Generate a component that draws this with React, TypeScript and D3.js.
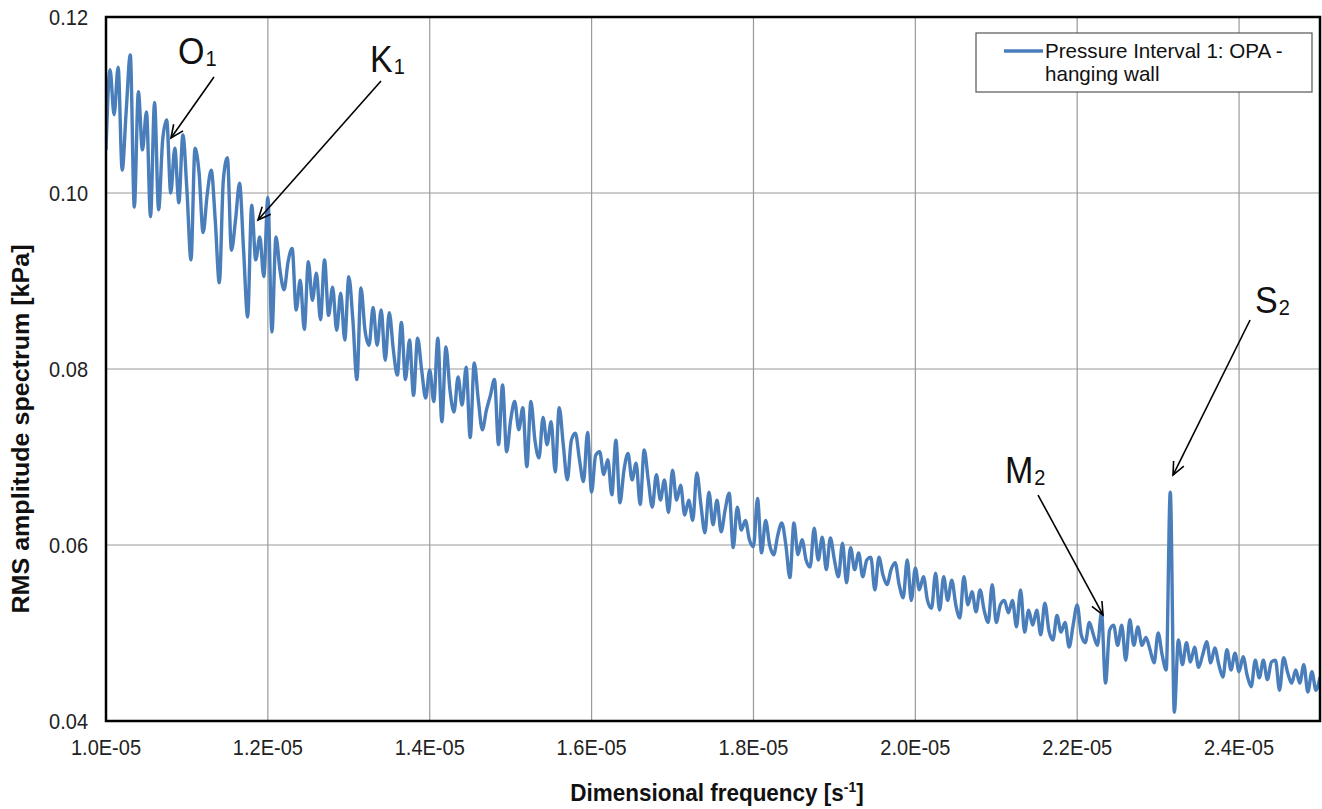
import React from 'react';
import * as d3 from 'd3';

// Spectrum sampled on a uniform frequency grid
const freqStart = 1.0e-5;
const freqStep = 5e-8;
const amplitude = [
  0.1049, 0.1140, 0.1089, 0.1143, 0.1026, 0.1094, 0.1157, 0.0984, 0.1115, 0.1049,
  0.1092, 0.0973, 0.1103, 0.0981, 0.1060, 0.1083, 0.1000, 0.1051, 0.0989, 0.1066,
  0.1003, 0.0924, 0.1051, 0.1023, 0.0955, 0.0998, 0.1026, 0.0969, 0.0898, 0.1015,
  0.1040, 0.0935, 0.0969, 0.1011, 0.0935, 0.0859, 0.0986, 0.0924, 0.0950, 0.0905,
  0.0995, 0.0842, 0.0950, 0.0912, 0.0890, 0.0922, 0.0937, 0.0867, 0.0901, 0.0845,
  0.0922, 0.0878, 0.0909, 0.0856, 0.0924, 0.0861, 0.0893, 0.0844, 0.0886, 0.0833,
  0.0905, 0.0856, 0.0788, 0.0892, 0.0844, 0.0827, 0.0870, 0.0827, 0.0867, 0.0810,
  0.0864, 0.0822, 0.0793, 0.0853, 0.0788, 0.0833, 0.0770, 0.0835, 0.0799, 0.0767,
  0.0799, 0.0763, 0.0835, 0.0740, 0.0825, 0.0776, 0.0751, 0.0791, 0.0759, 0.0802,
  0.0722, 0.0807, 0.0765, 0.0731, 0.0753, 0.0770, 0.0788, 0.0714, 0.0782, 0.0706,
  0.0742, 0.0763, 0.0731, 0.0756, 0.0689, 0.0763, 0.0719, 0.0699, 0.0745, 0.0714,
  0.0740, 0.0683, 0.0756, 0.0714, 0.0674, 0.0719, 0.0727, 0.0697, 0.0672, 0.0728,
  0.0660, 0.0702, 0.0706, 0.0680, 0.0697, 0.0657, 0.0719, 0.0648, 0.0685, 0.0704,
  0.0674, 0.0693, 0.0646, 0.0708, 0.0674, 0.0643, 0.0680, 0.0651, 0.0674, 0.0637,
  0.0685, 0.0651, 0.0668, 0.0634, 0.0651, 0.0628, 0.0682, 0.0646, 0.0614, 0.0660,
  0.0623, 0.0651, 0.0615, 0.0640, 0.0659, 0.0597, 0.0643, 0.0617, 0.0628, 0.0606,
  0.0598, 0.0653, 0.0591, 0.0628, 0.0600, 0.0589, 0.0611, 0.0625, 0.0600, 0.0563,
  0.0625, 0.0589, 0.0606, 0.0583, 0.0575, 0.0619, 0.0583, 0.0609, 0.0572, 0.0608,
  0.0583, 0.0564, 0.0602, 0.0557, 0.0597, 0.0572, 0.0591, 0.0564, 0.0583, 0.0586,
  0.0549, 0.0586, 0.0566, 0.0555, 0.0572, 0.0580, 0.0555, 0.0540, 0.0583, 0.0537,
  0.0574, 0.0549, 0.0564, 0.0537, 0.0528, 0.0568, 0.0526, 0.0564, 0.0537, 0.0560,
  0.0532, 0.0517, 0.0564, 0.0532, 0.0547, 0.0524, 0.0549, 0.0526, 0.0512, 0.0555,
  0.0512, 0.0532, 0.0537, 0.0523, 0.0537, 0.0507, 0.0549, 0.0501, 0.0526, 0.0509,
  0.0526, 0.0498, 0.0534, 0.0503, 0.0492, 0.0520, 0.0501, 0.0512, 0.0484, 0.0509,
  0.0532, 0.0498, 0.0489, 0.0512, 0.0498, 0.0486, 0.0523, 0.0443, 0.0503, 0.0509,
  0.0486, 0.0509, 0.0469, 0.0515, 0.0486, 0.0507, 0.0486, 0.0495, 0.0481, 0.0466,
  0.0500, 0.0475, 0.0458, 0.0660, 0.0410, 0.0492, 0.0464, 0.0489, 0.0467, 0.0484,
  0.0461, 0.0475, 0.0490, 0.0466, 0.0483, 0.0464, 0.0450, 0.0481, 0.0458, 0.0477,
  0.0456, 0.0473, 0.0452, 0.0439, 0.0469, 0.0449, 0.0469, 0.0447, 0.0467, 0.0469,
  0.0435, 0.0472, 0.0455, 0.0443, 0.0458, 0.0443, 0.0464, 0.0433, 0.0456, 0.0435,
  0.0450,
];

const xTicks = [1.0e-5, 1.2e-5, 1.4e-5, 1.6e-5, 1.8e-5, 2.0e-5, 2.2e-5, 2.4e-5];
const yTicks = [0.04, 0.06, 0.08, 0.10, 0.12];

const seriesName = ['Pressure Interval 1: OPA -', 'hanging wall'];

// Tidal constituent annotations (label and arrow in data coordinates)
const constituents = ['O', 'K', 'M', 'S'];
const constituentSubs = ['1', '1', '2', '2'];
const labelFreq = [1.089e-5, 1.3262e-5, 2.1108e-5, 2.4198e-5];
const labelAmp = [0.11466, 0.11375, 0.06705, 0.08636];
const arrowFromFreq = [1.1334e-5, 1.3398e-5, 2.1516e-5, 2.4136e-5];
const arrowFromAmp = [0.11318, 0.11273, 0.06568, 0.08557];
const arrowToFreq = [1.0803e-5, 1.1878e-5, 2.2319e-5, 2.3184e-5];
const arrowToAmp = [0.10625, 0.09693, 0.05205, 0.06795];

const FONT = '"Liberation Sans", Arial, Helvetica, sans-serif';
const SY = 1.1; // vertical stretch of the lettering

function T(props: { x: number; y: number; sy?: number; children: React.ReactNode; [k: string]: any }) {
  const { x, y, sy, children, ...rest } = props;
  return (
    <g transform={`translate(${x},${y}) scale(1,${sy ?? SY})`}>
      <text x={0} y={0} {...rest}>{children}</text>
    </g>
  );
}

export default function App() {
  const W = 1322;
  const H = 809;
  const left = 106, right = 1320, top = 17, bottom = 721;
  const x = d3.scaleLinear().domain([1.0e-5, 2.5e-5]).range([left, right]);
  const y = d3.scaleLinear().domain([0.04, 0.12]).range([bottom, top]);

  const data = amplitude.map((a, i) => ({ f: freqStart + i * freqStep, a }));
  const line = d3
    .line<{ f: number; a: number }>()
    .x(d => x(d.f))
    .y(d => y(d.a))
    .curve(d3.curveMonotoneX);

  const arrows = constituents.map((c, i) => {
    const x1 = x(arrowFromFreq[i]), y1 = y(arrowFromAmp[i]);
    const x2 = x(arrowToFreq[i]), y2 = y(arrowToAmp[i]);
    const ang = Math.atan2(y1 - y2, x1 - x2);
    const len = 14, spread = 0.42;
    const h1 = [x2 + len * Math.cos(ang + spread), y2 + len * Math.sin(ang + spread)];
    const h2 = [x2 + len * Math.cos(ang - spread), y2 + len * Math.sin(ang - spread)];
    return { x1, y1, x2, y2, h1, h2 };
  });

  return (
    <div style={{ position: 'absolute', left: 0, top: 0, width: W, height: H, background: '#fff' }}>
      <svg width={W} height={H} style={{ display: 'block' }} fontFamily={FONT}>
        <defs>
          <clipPath id="plotclip">
            <rect x={left} y={top} width={right - left} height={bottom - top} />
          </clipPath>
        </defs>
        <rect x={0} y={0} width={W} height={H} fill="#fff" />
        {/* grid */}
        {xTicks.slice(1).map((t, i) => (
          <line key={'gx' + i} x1={x(t)} x2={x(t)} y1={top} y2={bottom} stroke="#9a9a9a" strokeWidth={1.2} />
        ))}
        {yTicks.slice(1, -1).map((t, i) => (
          <line key={'gy' + i} x1={left} x2={right} y1={y(t)} y2={y(t)} stroke="#9a9a9a" strokeWidth={1.2} />
        ))}
        {/* series */}
        <path d={line(data) || ''} fill="none" stroke="#4a7ebb" strokeWidth={3.4} strokeLinejoin="round" clipPath="url(#plotclip)" />
        {/* frame */}
        <rect x={left} y={top} width={right - left} height={bottom - top} fill="none" stroke="#000" strokeWidth={2.5} />
        {/* y tick labels */}
        {yTicks.map((t, i) => (
          <T key={'yt' + i} x={88} y={y(t) + 8} textAnchor="end" fontSize={20} fill="#222">{t.toFixed(2)}</T>
        ))}
        {/* x tick labels */}
        {xTicks.map((t, i) => (
          <T key={'xt' + i} x={x(t)} y={755} textAnchor="middle" fontSize={20} fill="#222">{(t * 1e5).toFixed(1) + 'E-05'}</T>
        ))}
        {/* axis titles */}
        <T x={717} y={801} sy={1.04} textAnchor="middle" fontSize={22.5} fontWeight="bold" fill="#111">
          Dimensional frequency [s<tspan fontSize={14} dy={-9}>-1</tspan><tspan dy={9}>]</tspan>
        </T>
        <text transform={`translate(29,${(top + bottom) / 2 + 60}) rotate(-90) scale(1.14,1.1)`} textAnchor="middle" fontSize={22} fontWeight="bold" fill="#111">
          RMS amplitude spectrum [kPa]
        </text>
        {/* legend */}
        <rect x={976} y={33} width={336} height={59} fill="#fff" stroke="#555" strokeWidth={1.2} />
        <line x1={1004} x2={1043} y1={51} y2={51} stroke="#4a7ebb" strokeWidth={3.4} />
        <text x={1045} y={58} fontSize={20.6} fill="#111">{seriesName[0]}</text>
        <text x={1045} y={81} fontSize={20.6} fill="#111">{seriesName[1]}</text>
        {/* annotations */}
        {constituents.map((c, i) => (
          <T key={'lab' + i} x={x(labelFreq[i])} y={y(labelAmp[i])} fontSize={34} fill="#111">
            {c}<tspan fontSize={20} dx={1} dy={2}>{constituentSubs[i]}</tspan>
          </T>
        ))}
        {arrows.map((a, i) => (
          <g key={'ar' + i} stroke="#000" strokeWidth={1.6} fill="none">
            <line x1={a.x1} y1={a.y1} x2={a.x2} y2={a.y2} />
            <polyline points={`${a.h1[0]},${a.h1[1]} ${a.x2},${a.y2} ${a.h2[0]},${a.h2[1]}`} />
          </g>
        ))}
      </svg>
    </div>
  );
}
